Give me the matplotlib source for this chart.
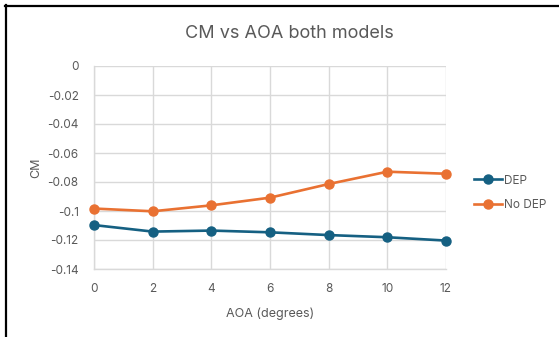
import matplotlib
matplotlib.use("Agg")
import matplotlib.pyplot as plt
from matplotlib.lines import Line2D

plt.rcParams["font.family"] = ["Inter", "DejaVu Sans"]

aoa = [0, 2, 4, 6, 8, 10, 12]
cm_dep = [-0.1097, -0.1142, -0.1135, -0.1147, -0.1166, -0.1181, -0.1204]
cm_no_dep = [-0.0983, -0.1002, -0.0961, -0.0908, -0.0814, -0.0729, -0.0743]
y_ticks = [0, -0.02, -0.04, -0.06, -0.08, -0.1, -0.12, -0.14]
y_tick_labels = ["0", "-0.02", "-0.04", "-0.06", "-0.08", "-0.1", "-0.12", "-0.14"]

BLUE = "#156082"
ORANGE = "#E97132"
TEXT = "#595959"
GRID = "#D9D9D9"

W, H = 559, 337
fig = plt.figure(figsize=(W / 100, H / 100), dpi=100)
ax = fig.add_axes([94 / W, 1 - 269 / H, (446 - 94) / W, (269 - 66) / H])

ax.plot(aoa, cm_dep, color=BLUE, lw=1.9, marker="o", ms=6.5, label="DEP",
        zorder=3, clip_on=False)
ax.plot(aoa, cm_no_dep, color=ORANGE, lw=1.9, marker="o", ms=6.5, label="No DEP",
        zorder=3, clip_on=False)

ax.set_xlim(0, 12)
ax.set_ylim(-0.14, 0)
ax.set_xticks(aoa)
ax.set_yticks(y_ticks)
ax.set_yticklabels(y_tick_labels)
ax.grid(True, color=GRID, lw=1.0)
ax.set_axisbelow(True)
for side in ["top", "right"]:
    ax.spines[side].set_visible(False)
for side in ["left", "bottom"]:
    ax.spines[side].set_color(GRID)
    ax.spines[side].set_linewidth(1.0)
ax.tick_params(length=0, colors=TEXT, labelsize=8.5, pad=10)
ax.tick_params(axis="y", pad=11)
for lbl in ax.get_xticklabels() + ax.get_yticklabels():
    lbl.set_color(TEXT)

ax.set_xlabel("AOA (degrees)", color=TEXT, fontsize=9, labelpad=9)
ax.set_ylabel("CM", color=TEXT, fontsize=9, labelpad=4)
fig.text(289 / W, 1 - 33 / H, "CM vs AOA both models", color=TEXT,
         fontsize=13, ha="center", va="center")

leg = ax.legend(loc="center left", bbox_to_anchor=(474 / W, 1 - 193 / H),
                bbox_transform=fig.transFigure, frameon=False, fontsize=8.5,
                handlelength=2.4, handletextpad=0.15, labelspacing=1.1,
                borderaxespad=0, borderpad=0)
for t in leg.get_texts():
    t.set_color(TEXT)

# outer frame of the chart area
fig.add_artist(Line2D([6 / W, 6 / W], [0, 1 - 5 / H], color="black", lw=1.6,
                      transform=fig.transFigure))
fig.add_artist(Line2D([5 / W, 1], [1 - 6 / H, 1 - 6 / H], color="black", lw=1.6,
                      transform=fig.transFigure))

fig.savefig("out.png", dpi=100, facecolor="white")
